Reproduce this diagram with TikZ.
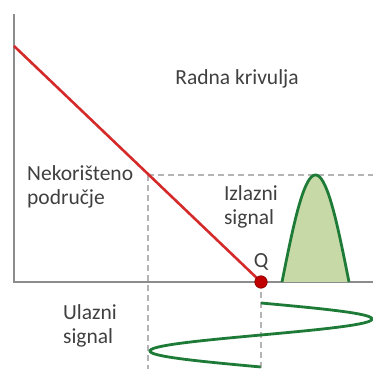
\documentclass[tikz,border=0pt]{standalone}
\usepackage{fontspec}
\setmainfont{Carlito}
\definecolor{txt}{HTML}{404040}
\definecolor{axisgray}{HTML}{8C8C8C}
\definecolor{dashgray}{HTML}{B4B4B4}
\definecolor{loadred}{HTML}{D42A2A}
\definecolor{qred}{HTML}{C00000}
\definecolor{sigreen}{HTML}{1E7B37}
\definecolor{sigfill}{HTML}{C7D9A6}
\begin{document}
\begin{tikzpicture}[x=1pt,y=-1pt,
  lbl/.style={text=txt,font=\fontsize{21.5}{24.5}\selectfont,inner sep=0pt,align=left},
  axisline/.style={draw=axisgray,line width=2.2pt},
  guide/.style={draw=dashgray,line width=1.4pt,dash pattern=on 6pt off 4pt},
  loadline/.style={draw=loadred,line width=2.6pt},
  sigline/.style={draw=sigreen,line width=2.8pt}]
\useasboundingbox (0,0) rectangle (373,369);
% coordinates
\coordinate (O) at (14,282);
\coordinate (Ytop) at (14,14);
\coordinate (Xend) at (373,282);
\coordinate (L0) at (14,46);
\coordinate (Q) at (261,282);
\coordinate (Hd0) at (148,175);
\coordinate (Hd1) at (373,175);
\coordinate (Vd1) at (148,369);
\coordinate (Vq1) at (261,369);
% dashed guides
\draw[guide] (Hd0) -- (Hd1);
\draw[guide] (Hd0) -- (Vd1);
\draw[guide] (Q) -- (Vq1);
% axes
\draw[axisline] (Ytop) -- (O) -- (Xend);
% output signal
\filldraw[sigline,fill=sigfill] plot[domain=0:1,samples=80] ({282+67*\x},{282-107*sin(180*\x)});
% input signal
\draw[sigline] plot[domain=0:1,samples=160] ({261+111*sin(360*\x)},{303+64*\x});
% load line
\draw[loadline] (L0) -- (Q);
\node[circle,fill=qred,draw=qred!70!black,line width=0.6pt,minimum size=12.5pt,inner sep=0pt] (Qdot) at (Q) {};
% labels
\node[lbl] (lq) at (261,262) {Q};
\node[lbl] (rk) at (237,79) {Radna krivulja};
\node[lbl,anchor=west] (nk) at (27,187) {Nekorišteno\\područje};
\node[lbl] (iz) at (251,207) {Izlazni\\signal};
\node[lbl] (ul) at (90,326) {Ulazni\\signal};
\end{tikzpicture}
\end{document}
